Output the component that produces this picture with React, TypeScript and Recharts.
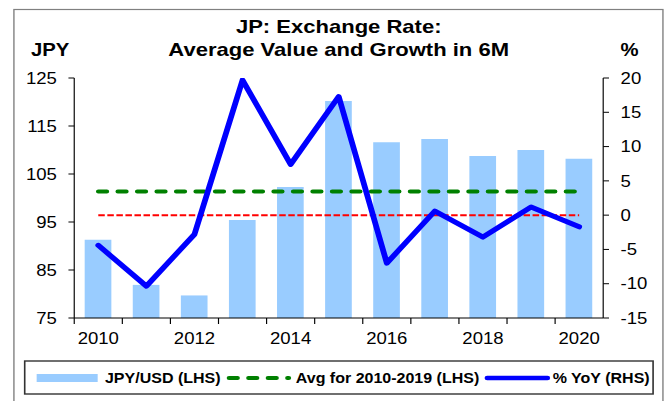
import React from 'react'
import { ComposedChart, Bar, Line, XAxis, YAxis } from 'recharts'

// values
const years = ['2010', '2011', '2012', '2013', '2014', '2015', '2016', '2017', '2018', '2019', '2020']
const jpyUsd = [91.3, 81.9, 79.7, 95.4, 102.3, 120.2, 111.6, 112.3, 108.75, 110.0, 108.2]
const yoyGrowth = [-4.4, -10.35, -2.8, 19.7, 7.4, 17.3, -7.0, 0.6, -3.2, 1.2, -1.7]
const leftTicks = [75, 85, 95, 105, 115, 125]
const rightTicks = [-15, -10, -5, 0, 5, 10, 15, 20]

// average for 2010-2019
const avg1019 = jpyUsd.slice(0, 10).reduce((a, b) => a + b, 0) / 10

const data = years.map((year, i) => ({
  year,
  jpy: jpyUsd[i],
  yoy: yoyGrowth[i],
  avg: avg1019,
  zero: 0,
}))

// the source image is stretched horizontally, so the whole chart is drawn narrower and scaled
const STRETCH = 1.16
const W = 575
const H = 401
const PLOT_LEFT = 64
const PLOT_RIGHT = 520
const BAND = (PLOT_RIGHT - PLOT_LEFT) / years.length
const FONT = '"Liberation Sans", Arial, Helvetica, sans-serif'

const YearTick = (props: any) => {
  const { x, y, payload, index } = props
  const bx = x - BAND / 2
  return (
    <g>
      <line x1={bx} y1={y - 15} x2={bx} y2={y - 9} stroke="#000" strokeWidth={1} />
      {index % 2 === 0 && (
        <text x={x} y={y} dy="0.71em" textAnchor="middle" fontSize={16} fontFamily={FONT} fill="#000">
          {payload.value}
        </text>
      )}
    </g>
  )
}

export default function App() {
  const tickStyle = { fontSize: 16, fontFamily: FONT, fill: '#000' }
  return (
    <div style={{ position: 'absolute', left: 0, top: 0, width: 667, height: 401, overflow: 'hidden', background: '#fff' }}>
      <div style={{ position: 'absolute', left: 0, top: 0, width: W, height: H, transform: `scaleX(${STRETCH})`, transformOrigin: '0 0' }}>
        <svg width={W} height={H} style={{ position: 'absolute', left: 0, top: 0 }}>
          <rect x={12} y={9.5} width={559.5} height={420} fill="#fff" stroke="#808080" strokeWidth={1.2} />
        </svg>
        <div style={{ position: 'absolute', left: 0, top: 0 }}>
          <ComposedChart width={W} height={H} data={data} margin={{ top: 78, right: 0, bottom: 53, left: 4 }}>
            <XAxis
              dataKey="year"
              interval={0}
              tick={<YearTick />}
              tickLine={false}
              tickSize={6}
              tickMargin={9}
              height={30}
              axisLine={{ stroke: '#000' }}
            />
            <YAxis
              yAxisId="left"
              domain={[75, 125]}
              ticks={leftTicks}
              width={60}
              tick={tickStyle}
              tickSize={5}
              tickMargin={10}
              tickLine={{ stroke: '#000' }}
              axisLine={{ stroke: '#000' }}
              allowDataOverflow
            />
            <YAxis
              yAxisId="right"
              orientation="right"
              domain={[-15, 20]}
              ticks={rightTicks}
              width={55}
              tick={{ ...tickStyle, textAnchor: 'start' }}
              tickSize={5}
              tickMargin={10}
              tickLine={{ stroke: '#000' }}
              axisLine={{ stroke: '#000' }}
              allowDataOverflow
            />
            <Bar yAxisId="left" dataKey="jpy" fill="#99ccff" barSize={23} isAnimationActive={false} />
            <Line
              yAxisId="right"
              dataKey="zero"
              stroke="#ff0000"
              strokeWidth={2}
              strokeDasharray="5.6 2.2"
              dot={false}
              activeDot={false}
              isAnimationActive={false}
            />
            <Line
              yAxisId="left"
              dataKey="avg"
              stroke="#008000"
              strokeWidth={4}
              strokeLinecap="round"
              strokeDasharray="7.4 9.4"
              dot={false}
              activeDot={false}
              isAnimationActive={false}
            />
            <Line
              yAxisId="right"
              type="linear"
              dataKey="yoy"
              stroke="#0000ff"
              strokeWidth={5}
              strokeLinejoin="round"
              strokeLinecap="round"
              dot={false}
              activeDot={false}
              isAnimationActive={false}
            />
          </ComposedChart>
        </div>
        <svg width={W} height={H} style={{ position: 'absolute', left: 0, top: 0, pointerEvents: 'none' }} fontFamily={FONT} fontWeight="bold">
          <text x={292} y={33.5} textAnchor="middle" fontSize={19} fill="#000">JP: Exchange Rate:</text>
          <text x={292} y={56.5} textAnchor="middle" fontSize={19} fill="#000">Average Value and Growth in 6M</text>
          <text x={26.7} y={56} fontSize={17.5} fill="#000">JPY</text>
          <text x={535} y={56} fontSize={17.5} fill="#000">%</text>

          <rect x={21.3} y={361} width={541.7} height={33} fill="#fff" stroke="#333" strokeWidth={1.4} />
          <rect x={31.6} y={374} width={52.6} height={8} fill="#99ccff" />
          <text x={90.5} y={383.5} fontSize={13.8} fill="#000">JPY/USD (LHS)</text>
          <line x1={197.4} y1={378} x2={249} y2={378} stroke="#008000" strokeWidth={4} strokeLinecap="round" strokeDasharray="7.4 9.4" />
          <text x={255} y={383.5} fontSize={13.8} fill="#000">Avg for 2010-2019 (LHS)</text>
          <line x1={420} y1={378} x2={472} y2={378} stroke="#0000ff" strokeWidth={4.5} strokeLinecap="round" />
          <text x={476.5} y={383.5} fontSize={13.8} fill="#000">% YoY (RHS)</text>
        </svg>
      </div>
    </div>
  )
}
